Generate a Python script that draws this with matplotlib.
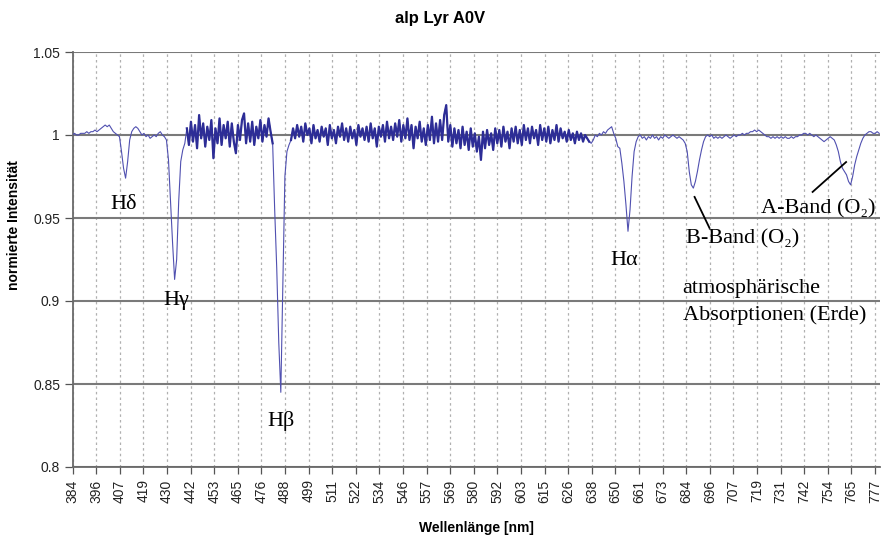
import numpy as np
import matplotlib
matplotlib.use("Agg")
import matplotlib.pyplot as plt

# ---------------- data ----------------
title = "alp Lyr A0V"
x_label = "Wellenlänge [nm]"
y_label = "normierte Intensität"

x_tick_labels = ["384", "396", "407", "419", "430", "442", "453", "465", "476", "488",
                 "499", "511", "522", "534", "546", "557", "569", "580", "592", "603",
                 "615", "626", "638", "650", "661", "673", "684", "696", "707", "719",
                 "731", "742", "754", "765", "777"]
y_ticks = [0.8, 0.85, 0.9, 0.95, 1.0, 1.05]
y_tick_labels = ["0.8", "0.85", "0.9", "0.95", "1", "1.05"]

wl_start = 384  # nm, 1 nm sampling
intensity = [
    # 384-389
    1.000, 1.001, 1.000, 1.000, 1.001, 1.001,
    # 390-399
    1.001, 1.002, 1.001, 1.002, 1.002, 1.003, 1.002, 1.003, 1.004, 1.005,
    # 400-409
    1.006, 1.005, 1.006, 1.004, 1.002, 1.001, 1.000, 0.999, 0.990, 0.980,
    # 410-419
    0.974, 0.984, 0.997, 1.002, 1.004, 1.005, 1.004, 1.002, 1.000, 1.001,
    # 420-429
    0.999, 1.000, 0.998, 0.999, 1.000, 0.999, 1.001, 1.002, 1.000, 0.999,
    # 430-439
    0.997, 0.985, 0.960, 0.935, 0.913, 0.925, 0.960, 0.984, 0.991, 0.995,
    # 440-449
    1.004, 0.994, 1.008, 0.996, 1.006, 0.992, 1.012, 0.998, 1.007, 0.993,
    # 450-459
    1.005, 0.997, 1.009, 0.986, 1.004, 0.995, 1.010, 0.994, 1.006, 0.998,
    # 460-469
    1.008, 0.993, 1.007, 0.996, 0.989, 1.006, 0.997, 1.009, 1.013, 0.995,
    # 470-479
    1.007, 0.996, 1.008, 0.994, 1.005, 0.998, 1.009, 0.996, 1.006, 0.999,
    # 480-489
    1.010, 1.002, 0.995, 0.955, 0.920, 0.875, 0.845, 0.910, 0.975, 0.990,
    # 490-499
    0.994, 0.997, 1.004, 0.998, 1.006, 0.999, 1.005, 0.996, 1.007, 1.000,
    # 500-509
    1.004, 0.995, 1.006, 0.998, 1.003, 0.996, 1.005, 0.999, 1.004, 0.994,
    # 510-519
    1.006, 0.998, 1.003, 0.995, 1.005, 0.999, 1.007, 0.997, 1.004, 0.996,
    # 520-529
    1.005, 0.998, 1.003, 0.994, 1.006, 0.999, 1.004, 0.997, 1.005, 0.996,
    # 530-539
    1.007, 0.998, 1.004, 0.993, 1.005, 0.999, 1.006, 0.996, 1.008, 0.998,
    # 540-549
    1.005, 0.997, 1.007, 0.999, 1.009, 0.996, 1.006, 0.998, 1.010, 0.997,
    # 550-559
    1.006, 0.992, 1.005, 0.998, 1.008, 0.996, 1.004, 0.994, 1.006, 0.997,
    # 560-569
    1.011, 0.995, 1.007, 0.996, 1.009, 0.997, 1.012, 1.018, 0.996, 1.006,
    # 570-579
    0.993, 1.004, 0.995, 1.003, 0.992, 1.005, 0.994, 1.002, 0.991, 1.004,
    # 580-589
    0.993, 1.001, 0.990, 0.999, 0.985, 1.002, 0.992, 1.003, 0.994, 1.001,
    # 590-599
    0.991, 1.004, 0.995, 1.003, 0.993, 1.005, 0.996, 1.002, 0.992, 1.004,
    # 600-609
    0.996, 1.005, 0.995, 1.003, 0.994, 1.006, 0.997, 1.004, 0.995, 1.005,
    # 610-619
    0.998, 1.003, 0.994, 1.006, 0.997, 1.004, 0.996, 1.005, 0.995, 1.003,
    # 620-629
    0.997, 1.006, 0.996, 1.004, 0.998, 1.002, 0.996, 1.003, 0.997, 1.001,
    # 630-639
    0.995, 1.002, 0.997, 1.001, 0.996, 1.000, 0.998, 0.996, 0.995, 0.997,
    # 640-649
    1.000, 0.999, 1.001, 1.000, 1.002, 1.001, 1.003, 1.004, 1.005, 1.001,
    # 650-659
    0.998, 0.993, 0.992, 0.983, 0.972, 0.958, 0.942, 0.955, 0.975, 0.990,
    # 660-669
    0.996, 0.999, 1.000, 0.998, 0.999, 0.997, 0.999, 0.998, 1.000, 0.998,
    # 670-679
    0.999, 0.997, 0.999, 0.998, 1.000, 0.999, 0.998, 0.999, 1.000, 0.999,
    # 680-689
    0.998, 0.999, 0.998, 0.997, 0.995, 0.990, 0.978, 0.970, 0.968, 0.972,
    # 690-699
    0.978, 0.985, 0.991, 0.996, 0.999, 1.000, 0.999, 1.000, 0.998, 0.999,
    # 700-709
    0.998, 0.999, 0.998, 0.999, 1.000, 0.999, 0.998, 0.999, 1.000, 0.999,
    # 710-719
    1.000, 1.000, 1.001, 1.000, 1.001, 1.001, 1.002, 1.002, 1.003, 1.002,
    # 720-729
    1.003, 1.002, 1.001, 1.000, 0.999, 0.999, 0.998, 0.999, 0.998, 0.999,
    # 730-739
    0.998, 0.999, 0.998, 0.999, 0.998, 0.998, 0.999, 0.998, 0.999, 0.999,
    # 740-749
    1.000, 1.000, 1.001, 1.001, 1.000, 1.001, 1.000, 0.999, 1.000, 0.999,
    # 750-759
    0.998, 0.997, 0.996, 0.997, 0.998, 0.999, 0.998, 0.997, 0.994, 0.990,
    # 760-769
    0.984, 0.980, 0.978, 0.976, 0.972, 0.970, 0.975, 0.982, 0.987, 0.991,
    # 770-779
    0.995, 0.998, 1.000, 1.001, 1.002, 1.002, 1.001, 1.001, 1.002, 1.001,
]

# wavelength ranges of the noisy (high-resolution) parts of the spectrum
noisy_ranges = [(440, 482), (491, 637)]

# annotations: label, x (nm), y (intensity)
line_labels = ["Hδ", "Hγ", "Hβ", "Hα"]
line_label_x = [409.1, 434.8, 486.0, 654.3]
line_label_y = [0.958, 0.900, 0.8277, 0.9244]

band_labels = ["B-Band (O₂)", "A-Band (O₂)", "atmosphärische", "Absorptionen (Erde)"]
band_label_x = [684.6, 721.3, 682.7, 682.7]
band_label_y = [0.9377, 0.9557, 0.9075, 0.8916]

# pointer lines (x0, y0, x1, y1)
pointer_x = [[688.6, 695.9], [746.4, 762.8]]
pointer_y = [[0.9627, 0.9440], [0.9657, 0.9837]]

# ---------------- plot ----------------
W, H = 881, 537
fig = plt.figure(figsize=(W / 100, H / 100), dpi=100)
left, right, top, bottom = 72.5, 880, 52, 467
ax = fig.add_axes([left / W, 1 - bottom / H, (right - left) / W, (bottom - top) / H])

wl = wl_start + np.arange(len(intensity))
inten = np.array(intensity)
ax.plot(wl, inten, color="#5050b0", lw=0.8, zorder=3)
for a, b in noisy_ranges:
    m = (wl >= a) & (wl <= b)
    ax.plot(wl[m], inten[m], color="#2d2d96", lw=1.6, zorder=3)

ax.set_xlim(384, 779.4)
ax.set_ylim(0.8, 1.05)

tick_font = ["Liberation Sans Narrow", "Liberation Sans"]
xt = np.linspace(384, 777, len(x_tick_labels))
ax.set_xticks(xt)
ax.set_xticklabels(x_tick_labels, rotation=90, fontsize=10, family=tick_font,
                   color="#222222")
ax.set_yticks(y_ticks)
ax.set_yticklabels(y_tick_labels, fontsize=10, family=tick_font, color="#222222")
ax.tick_params(axis="x", direction="out", length=5, width=0.9, color="#555555", pad=4)
ax.tick_params(axis="y", direction="out", length=6, width=0.9, color="#555555", pad=3)

ax.grid(axis="y", color="#7a7a7a", lw=1.5, zorder=1)
ax.grid(axis="x", color="#b0b0b0", lw=0.9, ls=(0, (2, 2.5)), zorder=1)
ax.set_axisbelow(True)

for s in ["top", "right"]:
    ax.spines[s].set_visible(False)
for s in ["left", "bottom"]:
    ax.spines[s].set_color("#6a6a6a")
    ax.spines[s].set_linewidth(1.3)

fig.text(0.5, 1 - 19 / H, title, ha="center", va="center",
         fontsize=12, fontweight="bold", family="Liberation Sans")
ax.set_xlabel(x_label, fontsize=10, fontweight="bold", family="Liberation Sans")
ax.set_ylabel(y_label, fontsize=10, fontweight="bold", family="Liberation Sans")
ax.xaxis.set_label_coords(0.5, -(521 - bottom) / (bottom - top))
ax.yaxis.set_label_coords(-(left - 21) / (right - left), (bottom - 225) / (bottom - top))

serif = ["Liberation Serif", "DejaVu Serif"]
for t, x, y in zip(line_labels, line_label_x, line_label_y):
    ax.text(x, y, t, ha="center", va="center", fontsize=16, family=serif, zorder=4)
for t, x, y in zip(band_labels, band_label_x, band_label_y):
    ax.text(x, y, t, ha="left", va="center", fontsize=16, family=serif, zorder=4)
for px, py in zip(pointer_x, pointer_y):
    ax.plot(px, py, color="black", lw=1.3, zorder=4)

fig.savefig("out.png", dpi=100)
